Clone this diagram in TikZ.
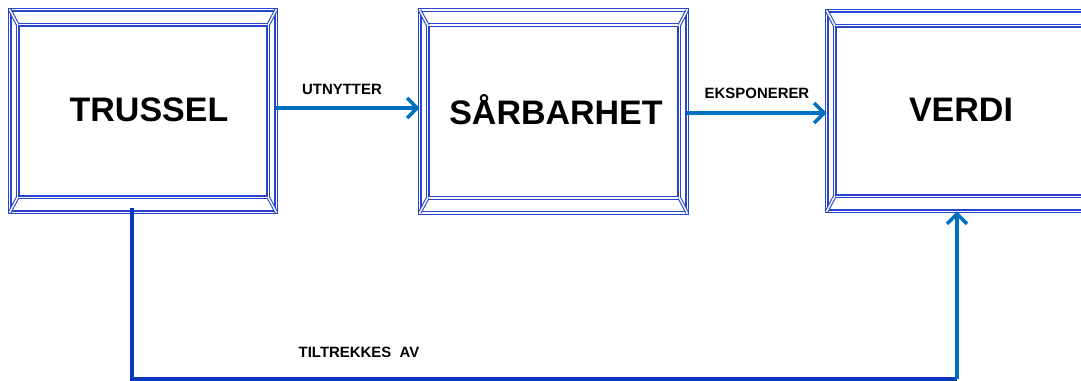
\documentclass[tikz,border=0pt]{standalone}
\usepackage{fontspec}
\setmainfont{Liberation Sans}
\usetikzlibrary{arrows.meta,calc}
\definecolor{framecol}{RGB}{40,70,205}
\definecolor{arrcol}{RGB}{0,112,192}
\definecolor{darkcol}{RGB}{10,55,190}
\tikzset{
  box/.style={inner sep=0pt, font=\fontsize{25.5pt}{28pt}\selectfont\bfseries},
  frame/.style={draw=framecol, line width=0.8pt, double=white, double distance=1.1pt},
  conn/.style={draw=arrcol, line width=2.7pt, -{Straight Barb[length=7.5pt,width=15pt]}},
  darkconn/.style={draw=darkcol, line width=2.7pt},
  lab/.style={font=\fontsize{11.2pt}{13pt}\selectfont\bfseries, inner sep=0pt}
}
\newcommand{\bevelframe}[1]{%
  \draw[frame] (#1.north west) rectangle (#1.south east);
  \draw[frame] ($(#1.north west)+(8,15)$) rectangle ($(#1.south east)+(-8,-15)$);
  \draw[frame] (#1.north west) -- ($(#1.north west)+(8,15)$);
  \draw[frame] (#1.north east) -- ($(#1.north east)+(-8,15)$);
  \draw[frame] (#1.south west) -- ($(#1.south west)+(8,-15)$);
  \draw[frame] (#1.south east) -- ($(#1.south east)+(-8,-15)$);
}
\begin{document}
\begin{tikzpicture}[x=0.75pt,y=-0.75pt]
\useasboundingbox (0,0) rectangle (1081,381);
\clip (0,0) rectangle (1081,381);
\node[box, minimum width=199.5pt, minimum height=151.5pt] (trussel) at (143,111) {};
\node[box, minimum width=200.25pt, minimum height=151.5pt] (sarbar) at (553.5,111.5) {};
\node[box, minimum width=201pt, minimum height=150pt] (verdi) at (961,111) {};
\bevelframe{trussel}
\bevelframe{sarbar}
\bevelframe{verdi}
\node[box] (t1) at (149,110) {TRUSSEL};
\node[box] (t2) at (556,110) {SÅRBARHET};
\node[box] (t3) at (961,110) {VERDI};
\draw[conn] ($(trussel.east)+(0,-3)$) -- ($(sarbar.west)+(0,-3.5)$);
\draw[conn] ($(sarbar.east)+(0,1.5)$) -- ($(verdi.west)+(0,2)$);
\node[lab] (l1) at (342,89) {UTNYTTER};
\node[lab] (l2) at (757,93) {EKSPONERER};
\coordinate (c1) at (957,379);
\draw[darkconn] ($(trussel.south)+(-11,-4)$) |- (c1);
\draw[conn] (c1) -- ($(verdi.south)+(-4,0)$);
\node[lab] (l3) at (359,352) {TILTREKKES\ \ AV};
\end{tikzpicture}
\end{document}
